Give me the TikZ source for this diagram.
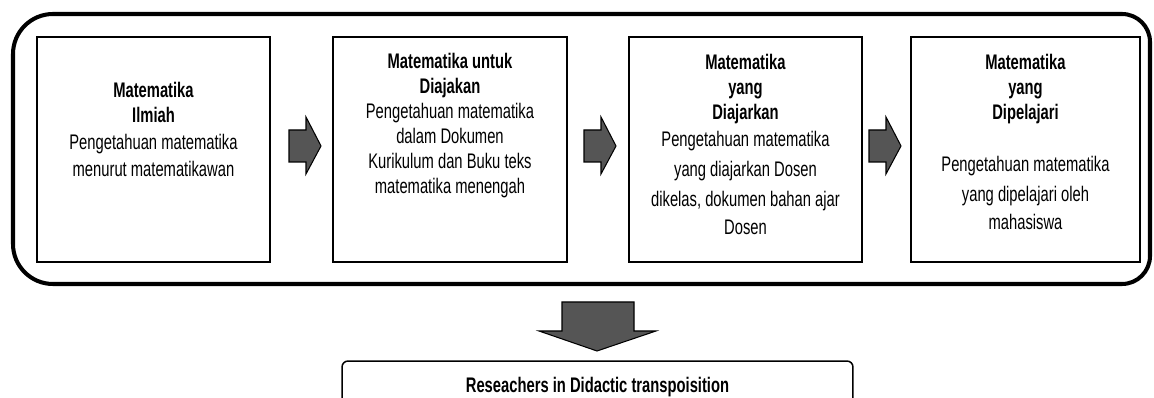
\documentclass[tikz,border=0pt]{standalone}
\usepackage{fontspec}
\newfontfamily\agf[FakeStretch=0.70]{Liberation Sans}
\usetikzlibrary{calc}
\definecolor{arrowfill}{RGB}{85,85,85}
\begin{document}
\begin{tikzpicture}[x=0.02cm,y=-0.02cm,
  stage/.style={draw=black, line width=0.85pt, minimum height=4.5cm, inner sep=0pt},
  txt/.style={font=\agf\fontsize{12}{14.2}\selectfont, align=center, inner sep=0pt, anchor=north},
  blockarrow/.style={draw=black, line width=0.6pt, fill=arrowfill, line join=miter},
  rarrow/.pic={\draw[blockarrow] (0,-16) -- (17,-16) -- (17,-29) -- (32,0) -- (17,28) -- (17,16) -- (0,16) -- cycle;}]
\useasboundingbox (0,0) rectangle (1154,398);
\clip (0,0) rectangle (1154,398);
% outer frame
\draw[line width=2.3pt] (13,150) [rounded corners=0.8cm] -- (13,14) [rounded corners=0.56cm] -- (1150,14) -- (1150,284) [rounded corners=0.8cm] -- (13,284) -- cycle;
% stage boxes
\node[stage, minimum width=4.66cm] (b1) at (153.5,149.5) {};
\node[stage, minimum width=4.68cm] (b2) at (450,149.5) {};
\node[stage, minimum width=4.66cm] (b3) at (745.5,149.5) {};
\node[stage, minimum width=4.58cm] (b4) at (1025.5,149.5) {};
% texts
\node[txt] (t1) at (153.5,82) {\textbf{Matematika}\\\textbf{Ilmiah}\\[1.1pt]Pengetahuan matematika\\[1.1pt]menurut matematikawan};
\node[txt] (t2) at (450,53) {\textbf{Matematika untuk}\\\textbf{Diajakan}\\Pengetahuan matematika\\dalam Dokumen\\Kurikulum dan Buku teks\\matematika menengah};
\node[txt] (t3) at (745.5,54) {\textbf{Matematika}\\\textbf{yang}\\\textbf{Diajarkan}\\[1.1pt]Pengetahuan matematika\\[2.8pt]yang diajarkan Dosen\\[2.8pt]dikelas, dokumen bahan ajar\\[1.7pt]Dosen};
\node[txt] (t4) at (1025.5,54) {\textbf{Matematika}\\\textbf{yang}\\\textbf{Dipelajari}\\[15.4pt]Pengetahuan matematika\\[2.8pt]yang dipelajari oleh\\[1.7pt]mahasiswa};
% right block arrows
\pic at (289,146) {rarrow};
\pic at (584,146) {rarrow};
\pic at (869,146) {rarrow};
% down block arrow
\draw[blockarrow] (562,302) -- (634,302) -- (634,331) -- (656,331) -- (597,351) -- (539,331) -- (562,331) -- cycle;
% bottom box
\node[draw=black, line width=0.85pt, rounded corners=0.12cm, minimum width=10.22cm, minimum height=1.36cm, inner sep=0pt] (res) at (597.5,395) {};
\node[txt] (rt) at (597.5,377) {\textbf{Reseachers in Didactic transpoisition}};
\end{tikzpicture}
\end{document}
